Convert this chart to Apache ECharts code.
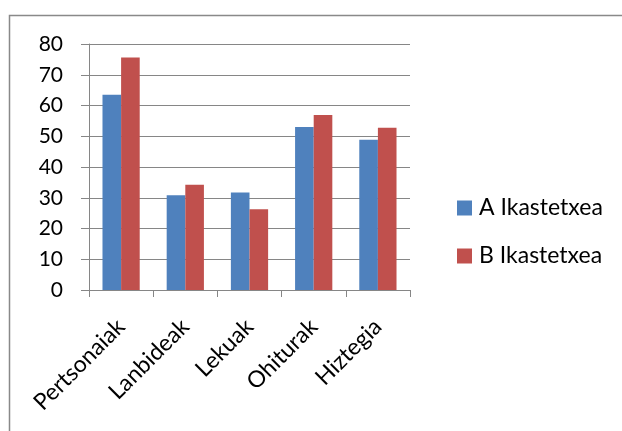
<!DOCTYPE html>
<html><head><meta charset="utf-8">
<script src="https://cdn.jsdelivr.net/npm/echarts@6/dist/echarts.min.js"></script>
<style>html,body{margin:0;padding:0;background:#fff}#c{width:622px;height:431px}</style>
</head><body><div id="c"></div>
<script>
const categories = ['Pertsonaiak','Lanbideak','Lekuak','Ohiturak','Hiztegia'];
const seriesA = [63.5, 30.8, 31.7, 53.0, 48.9];
const seriesB = [75.6, 34.2, 26.3, 56.9, 52.8];
const seriesNames = ['A Ikastetxea','B Ikastetxea'];
const yTicks = {min:0, max:80, interval:10};

const chart = echarts.init(document.getElementById('c'), null, {renderer:'canvas'});
const font = 'Lato, "Open Sans", sans-serif';
chart.setOption({
  animation:false,
  backgroundColor:'#fff',
  graphic:[{type:'rect', shape:{x:9.5,y:15.5,width:800,height:600}, style:{fill:'none',stroke:'#898989',lineWidth:1.5}, silent:true}],
  grid:{left:89, right:212, top:44, bottom:141},
  legend:{
    orient:'vertical', left:452, top:191, itemWidth:15, itemHeight:15, itemGap:24,
    icon:'rect',
    textStyle:{fontFamily:font, fontSize:23, lineHeight:24, color:'#000', padding:[0,0,0,2]},
    data:seriesNames
  },
  xAxis:{
    type:'category', data:categories,
    axisLine:{lineStyle:{color:'#868686',width:1}},
    axisTick:{show:true, alignWithLabel:false, length:7, lineStyle:{color:'#868686'}},
    axisLabel:{rotate:45, fontFamily:font, fontSize:23, color:'#000', margin:33, interval:0}
  },
  yAxis:{
    type:'value', min:yTicks.min, max:yTicks.max, interval:yTicks.interval,
    axisLine:{show:true, lineStyle:{color:'#868686',width:1}},
    axisTick:{show:true, length:8, lineStyle:{color:'#868686'}},
    splitLine:{lineStyle:{color:'#868686',width:1}},
    axisLabel:{fontFamily:font, fontSize:21, color:'#000', margin:26}
  },
  series:[
    {name:seriesNames[0], type:'bar', data:seriesA, barWidth:'29%', barGap:'0%', itemStyle:{color:'#4F81BD'}},
    {name:seriesNames[1], type:'bar', data:seriesB, barWidth:'29%', itemStyle:{color:'#C0504D'}}
  ]
});
</script></body></html>
